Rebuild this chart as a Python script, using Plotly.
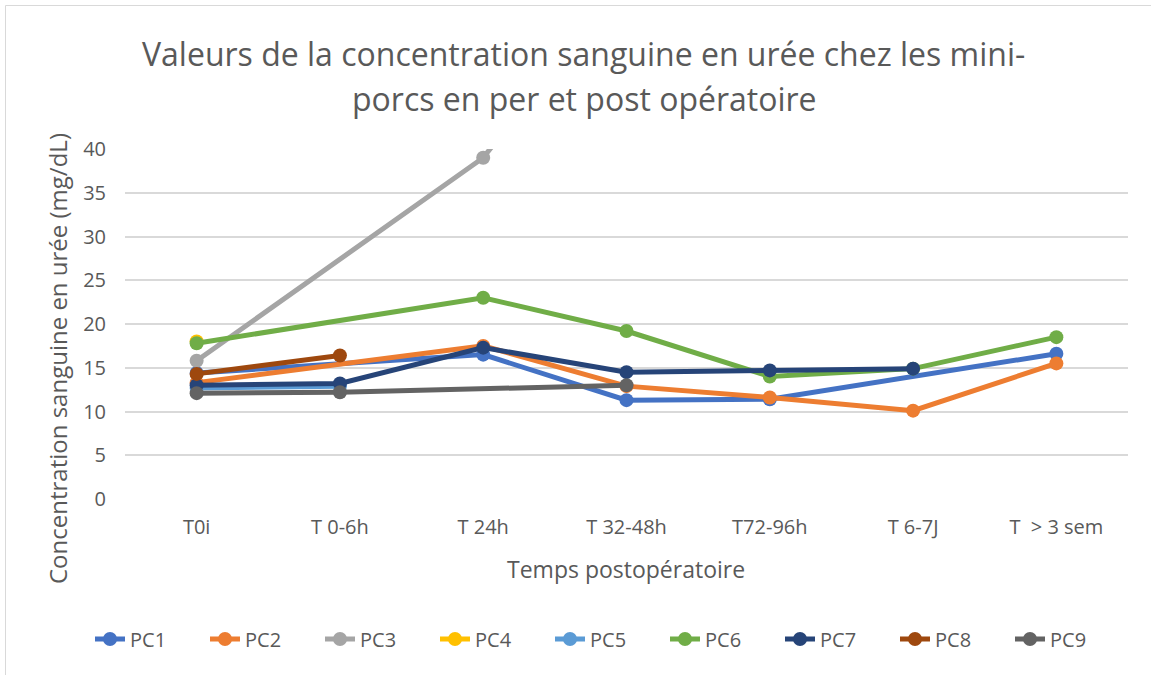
import plotly.graph_objects as go

# Time points after surgery
categories = ["T0i", "T 0-6h", "T 24h", "T 32-48h", "T72-96h", "T 6-7J", "T\u00a0 > 3 sem"]

# Blood urea (mg/dL) per mini-pig; None = not measured
pc1 = [14.4, None, 16.5, 11.3, 11.4, None, 16.6]
pc2 = [13.3, None, 17.5, 12.9, 11.6, 10.1, 15.5]
pc3 = [15.8, None, 39.0, 60.0, None, None, None]
pc4 = [18.0, None, None, None, None, None, None]
pc5 = [12.7, 12.9, None, None, None, None, None]
pc6 = [17.8, None, 23.0, 19.2, 14.0, 14.9, 18.5]
pc7 = [13.0, 13.2, 17.3, 14.5, 14.7, 14.9, None]
pc8 = [14.3, 16.4, None, None, None, None, None]
pc9 = [12.1, 12.2, None, 13.0, None, None, None]

series_names = ["PC1", "PC2", "PC3", "PC4", "PC5", "PC6", "PC7", "PC8", "PC9"]
series_values = [pc1, pc2, pc3, pc4, pc5, pc6, pc7, pc8, pc9]
series_colors = ["#4472C4", "#ED7D31", "#A5A5A5", "#FFC000", "#5B9BD5",
                 "#70AD47", "#264478", "#9E480E", "#636363"]

# Plot area in pixels (page is 1151 x 675)
W, H = 1151, 675
L, R, T, B = 125, 1128, 149, 499
FONT = "Open Sans"
TXT = "#595959"


def fx(px):
    return (px - L) / (R - L)


def fy(py):
    return (B - py) / (B - T)


fig = go.Figure()
for name, vals, col in zip(series_names, series_values, series_colors):
    fig.add_trace(go.Scatter(
        x=categories, y=vals, name=name, mode="lines+markers",
        connectgaps=True,
        line=dict(color=col, width=5),
        marker=dict(color=col, size=14),
        cliponaxis=True,
    ))

fig.update_layout(
    width=W, height=H,
    margin=dict(l=L, r=W - R, t=T, b=H - B),
    paper_bgcolor="white", plot_bgcolor="white",
    font=dict(family=FONT, color=TXT, size=20),
    showlegend=True,
    legend=dict(
        orientation="h", x=fx(90), xanchor="left", y=fy(639), yanchor="middle",
        font=dict(size=20, color=TXT), entrywidth=70, entrywidthmode="pixels",
        itemclick=False,
    ),
    annotations=[
        dict(text="Valeurs de la concentration sanguine en urée chez les mini-",
             xref="paper", yref="paper", x=fx(583), y=fy(53),
             xanchor="center", yanchor="middle", showarrow=False,
             font=dict(size=32, color=TXT)),
        dict(text="porcs en per et post opératoire",
             xref="paper", yref="paper", x=fx(584), y=fy(98),
             xanchor="center", yanchor="middle", showarrow=False,
             font=dict(size=32, color=TXT)),
        dict(text="Concentration sanguine en urée (mg/dL)",
             xref="paper", yref="paper", x=fx(57), y=fy(359),
             xanchor="center", yanchor="middle", showarrow=False, textangle=-90,
             font=dict(size=24, color=TXT)),
        dict(text="Temps postopératoire",
             xref="paper", yref="paper", x=fx(626), y=fy(569),
             xanchor="center", yanchor="middle", showarrow=False,
             font=dict(size=23, color=TXT)),
    ],
    shapes=[
        dict(type="rect", xref="paper", yref="paper",
             x0=fx(5.5), x1=fx(W + 20), y0=fy(5.5), y1=fy(H + 20),
             line=dict(color="#D9D9D9", width=1), fillcolor="rgba(0,0,0,0)",
             layer="below"),
    ],
)

fig.update_xaxes(
    type="category", range=[-0.5, 6.5], showgrid=False, showline=False,
    ticks="", tickfont=dict(size=20, color=TXT), ticklabelstandoff=14,
    zeroline=False,
)
fig.update_yaxes(
    range=[0, 40], dtick=5, showgrid=True, gridcolor="#D9D9D9", gridwidth=1.5,
    showline=False, ticks="", zeroline=False,
    tickfont=dict(size=20, color=TXT), ticklabelstandoff=18,
)

fig.write_html("out.html")
